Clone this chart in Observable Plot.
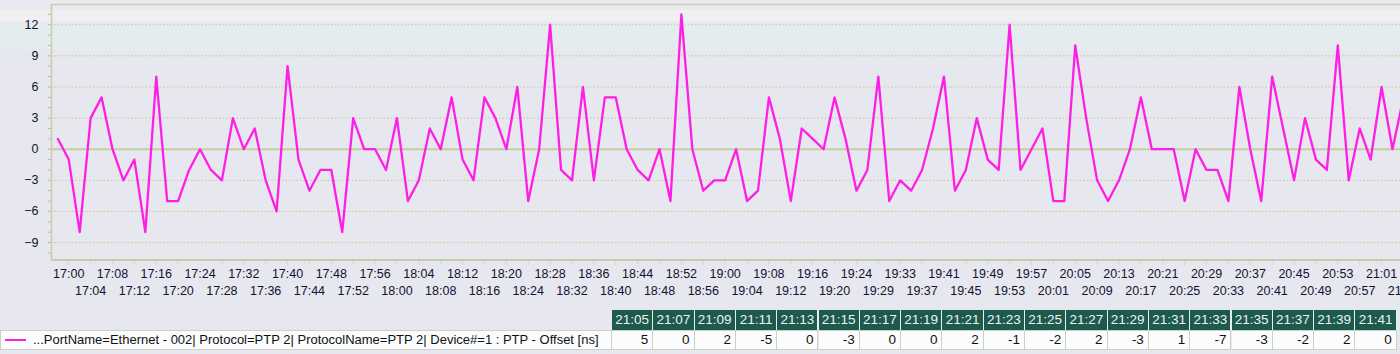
<!DOCTYPE html>
<html>
<head>
<meta charset="utf-8">
<script src="https://cdn.jsdelivr.net/npm/d3@7"></script>
<script src="https://cdn.jsdelivr.net/npm/@observablehq/plot@0.6"></script>
<style>
html, body { margin: 0; padding: 0; }
body {
  width: 1400px; height: 354px; overflow: hidden; position: relative;
  font-family: "Liberation Sans", Arial, sans-serif;
  background: linear-gradient(to bottom,
    #e9e9f1 0px, #e9e9f1 10px,
    #f0f0f2 10px, #f0f0f2 21px,
    #e4ecf0 21px, #e4ecf0 50px,
    #e7e7ef 50px, #e7e7ef 100%);
}
#chart { position: absolute; left: 0; top: 0; }
.cell { position: absolute; box-sizing: border-box; font-size: 13.5px; white-space: nowrap; overflow: hidden; }
.hc { top: 310px; height: 20px; background: #1b5a4c; color: #f2f2f2; line-height: 19px; text-align: center; border-right: 1px solid #e8eef0; }
.vc { top: 330px; height: 20px; background: #fafcfe; color: #111; line-height: 18px; text-align: right; padding-right: 4px; border: 1px solid #cfd0c2; border-left: none; }
.lc { top: 330px; left: 0; width: 612px; height: 20px; background: #fafcfe; color: #111; line-height: 18px; border: 1px solid #cfd0c2; padding-left: 32px; font-size: 13px; }
.sw { position: absolute; left: 4px; top: 8px; width: 21px; height: 2px; background: #ff1ee6; }
</style>
</head>
<body>
<div id="chart"></div>
<div id="table"></div>
<script>
// PTP offset [ns], one sample every ~2 minutes starting 16:58
const offsets = [
  1, -1, -8, 3, 5, 0, -3, -1, -8, 7,
  -5, -5, -2, 0, -2, -3, 3, 0, 2, -3,
  -6, 8, -1, -4, -2, -2, -8, 3, 0, 0,
  -2, 3, -5, -3, 2, 0, 5, -1, -3, 5,
  3, 0, 6, -5, 0, 12, -2, -3, 6, -3,
  5, 5, 0, -2, -3, 0, -5, 13, 0, -4,
  -3, -3, 0, -5, -4, 5, 1, -5, 2, 1,
  0, 5, 1, -4, -2, 7, -5, -3, -4, -2,
  2, 7, -4, -2, 3, -1, -2, 12, -2, 0,
  2, -5, -5, 10, 3, -3, -5, -3, 0, 5,
  0, 0, 0, -5, 0, -2, -2, -5, 6, 0,
  -5, 7, 2, -3, 3, -1, -2, 10, -3, 2,
  -1, 6, 0, 5
];

// x-axis tick labels, one for every second sample (index 1, 3, 5, ...)
const tickLabels = [
  "17:00","17:04","17:08","17:12","17:16","17:20","17:24","17:28","17:32","17:36",
  "17:40","17:44","17:48","17:52","17:56","18:00","18:04","18:08","18:12","18:16",
  "18:20","18:24","18:28","18:32","18:36","18:40","18:44","18:48","18:52","18:56",
  "19:00","19:04","19:08","19:12","19:16","19:20","19:24","19:29","19:33","19:37",
  "19:41","19:45","19:49","19:53","19:57","20:01","20:05","20:09","20:13","20:17",
  "20:21","20:25","20:29","20:33","20:37","20:41","20:45","20:49","20:53","20:57",
  "21:01","21:05"
];

const yTicks = [-9, -6, -3, 0, 3, 6, 9, 12];
const seriesName = "...PortName=Ethernet - 002| Protocol=PTP 2| ProtocolName=PTP 2| Device#=1 : PTP - Offset [ns]";

// table under the chart
const tableTimes = ["21:05","21:07","21:09","21:11","21:13","21:15","21:17","21:19","21:21","21:23",
  "21:25","21:27","21:29","21:31","21:33","21:35","21:37","21:39","21:41"];
const tableValues = [5, 0, 2, -5, 0, -3, 0, 0, 2, -1, -2, 2, -3, 1, -7, -3, -2, 2, 0];

const data = offsets.map((v, i) => ({i, v}));
const ticks = tickLabels.map((t, k) => ({pos: 2 * k + 1, t, row: k % 2}));

const xDomain = [-0.576, 122.73];
const yDomain = [-10.68, 13.95];
const gridColor = "#c5c98c";
const frameColor = "#c9cda6";
const magenta = "#ff1ee6";
const labelColor = "#121232";

const plot = Plot.plot({
  width: 1400,
  height: 304,
  marginLeft: 51,
  marginRight: 0,
  marginTop: 4,
  marginBottom: 44.5,
  style: {background: "transparent", fontFamily: "Liberation Sans, Arial, sans-serif", fontSize: "12.5px", color: labelColor, overflow: "hidden"},
  x: {type: "linear", domain: xDomain, axis: null},
  y: {type: "linear", domain: yDomain, axis: null},
  marks: [
    Plot.ruleY(yTicks.filter(d => d !== 0), {stroke: gridColor, strokeDasharray: "1.5,2", strokeWidth: 1}),
    Plot.ruleY([0], {stroke: "#c5cda4", strokeWidth: 2}),
    Plot.ruleY([yDomain[1]], {stroke: frameColor, strokeWidth: 1.5}),
    Plot.ruleY([yDomain[0]], {stroke: frameColor, strokeWidth: 2}),
    Plot.ruleX([xDomain[0]], {stroke: frameColor, strokeWidth: 1.5}),
    Plot.axisY({ticks: d3.range(-10, 14), tickSize: 3, tickFormat: () => "", stroke: "#b8bc98", label: null}),
    Plot.axisY({ticks: yTicks, tickSize: 0, tickPadding: 13, fontSize: 12.5, fill: labelColor, label: null}),
    Plot.axisX({ticks: ticks.map(d => d.pos), tickSize: 4, tickFormat: () => "", stroke: "#c9cc9a", strokeDasharray: "1,1", dy: 2, label: null}),
    Plot.text(ticks.filter(d => d.row === 0), {x: "pos", text: "t", frameAnchor: "bottom", dy: 18, fill: labelColor, fontSize: 12.5}),
    Plot.text(ticks.filter(d => d.row === 1), {x: "pos", text: "t", frameAnchor: "bottom", dy: 35, fill: labelColor, fontSize: 12.5}),
    Plot.line(data, {x: "i", y: "v", stroke: magenta, strokeWidth: 2.3, clip: true})
  ]
});
document.getElementById("chart").append(plot);

// HTML table (legend + values)
const table = document.getElementById("table");
const lc = document.createElement("div");
lc.className = "cell lc";
const sw = document.createElement("div");
sw.className = "sw";
const txt = document.createElement("span");
txt.textContent = seriesName;
lc.append(sw, txt);
table.append(lc);
const cellW = 41.3, cellX0 = 612;
tableTimes.forEach((t, k) => {
  const h = document.createElement("div");
  h.className = "cell hc";
  h.style.left = (cellX0 + k * cellW) + "px";
  h.style.width = cellW + "px";
  h.textContent = t;
  table.append(h);
  const v = document.createElement("div");
  v.className = "cell vc";
  v.style.left = (cellX0 + k * cellW) + "px";
  v.style.width = cellW + "px";
  v.textContent = tableValues[k];
  table.append(v);
});
</script>
</body>
</html>
